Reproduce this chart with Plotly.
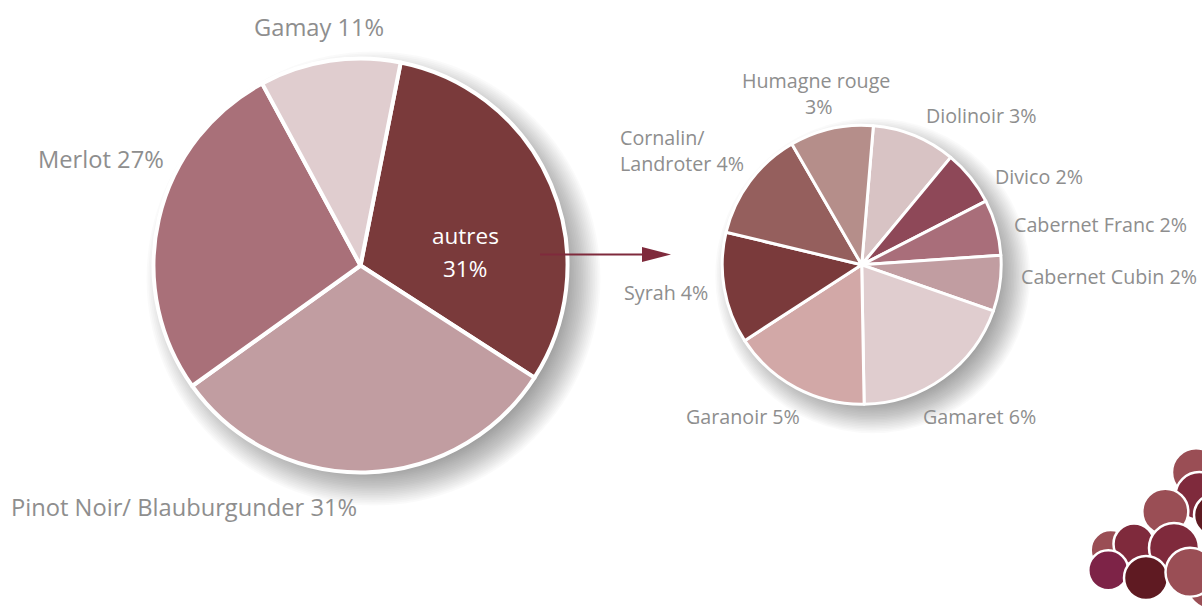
import plotly.graph_objects as go

# --- data ---
main_categories = ["autres", "Pinot Noir/ Blauburgunder", "Merlot", "Gamay"]
main_values = [31, 31, 27, 11]
detail_categories = ["Diolinoir", "Divico", "Cabernet Franc", "Cabernet Cubin", "Gamaret",
                     "Garanoir", "Syrah", "Cornalin/<br>Landroter", "Humagne rouge<br>"]
detail_values = [3, 2, 2, 2, 6, 5, 4, 4, 3]

# --- style ---
W, H = 1202, 608
main_colors = ["#7a3a3b", "#c19da1", "#a97079", "#e0cdcf"]
detail_colors = ["#d8c3c4", "#8e4858", "#a96e7a", "#c19da1", "#e0cdcf",
                 "#d2a8a7", "#7a3a3b", "#955f5d", "#b58e8a"]
FONT = "Open Sans"
GREY = "#8e8e8e"
MAIN_SIZE, DETAIL_SIZE = 23.7, 19.7


def px(x):
    return x / W


def py(y):
    return 1 - y / H


def domain(cx, cy, r):
    return dict(x=[px(cx - r), px(cx + r)], y=[py(cy + r), py(cy - r)])


def circle(cx, cy, r, **kw):
    return dict(type="circle", xref="paper", yref="paper",
                x0=px(cx - r), x1=px(cx + r), y0=py(cy + r), y1=py(cy - r), **kw)


MAIN_PIE = (360.5, 265.5, 207)
DETAIL_PIE = (861.7, 264.8, 139.5)

fig = go.Figure()
fig.add_trace(go.Pie(labels=main_categories, values=main_values, sort=False, direction="clockwise",
                     rotation=11.2, textinfo="none", hoverinfo="label+percent", showlegend=False,
                     marker=dict(colors=main_colors, line=dict(color="white", width=4)),
                     domain=domain(*MAIN_PIE)))
fig.add_trace(go.Pie(labels=detail_categories, values=detail_values, sort=False, direction="clockwise",
                     rotation=4.8, textinfo="none", hoverinfo="label+percent", showlegend=False,
                     marker=dict(colors=detail_colors, line=dict(color="white", width=3)),
                     domain=domain(*DETAIL_PIE)))

shapes = []
# soft drop shadows below the pies
for (cx, cy, r), off, blur in [(MAIN_PIE, 13, 20), (DETAIL_PIE, 11, 18)]:
    n = 24
    for i in range(n):
        rr = r + blur * (1 - 2 * i / (n - 1))
        shapes.append(circle(cx + off, cy + off, rr, fillcolor="rgba(0,0,0,0.02)",
                             line=dict(width=0), layer="below"))

# arrow
shapes.append(dict(type="line", xref="paper", yref="paper", x0=px(540), x1=px(645),
                   y0=py(254.5), y1=py(254.5), line=dict(color="#7f2a3c", width=2)))
shapes.append(dict(type="path", xref="paper", yref="paper", line=dict(width=0), fillcolor="#7f2a3c",
                   path=f"M {px(642)} {py(247)} L {px(671)} {py(254.5)} L {px(642)} {py(262)} Z"))

# grape decoration
ROSE, RED, DARK, PURPLE = "#9a4e55", "#7f2a3c", "#5f1a22", "#7d2347"
grapes = [(1196, 472.3, 24, ROSE), (1199.3, 496, 24, RED), (1215, 515, 21, DARK),
          (1165.3, 511.7, 23, ROSE), (1110.7, 550, 20, ROSE), (1134, 544, 20.5, RED),
          (1211, 585, 24, ROSE), (1174, 548, 25, RED), (1108.3, 570.3, 20, PURPLE),
          (1146, 578, 22, DARK), (1190, 572.3, 24.5, ROSE)]
for gx, gy, gr, gc in grapes:
    shapes.append(circle(gx, gy, gr, fillcolor=gc, line=dict(color="white", width=2.5)))

# labels
main_label_pos = [None, (9, 507, "left"), (36, 158.5, "left"), (252, 26.5, "left")]
detail_label_pos = [(924, 116, "left"), (993, 176, "left"), (1012, 224.5, "left"), (1019, 276, "left"),
                    (921, 416.5, "left"), (684, 416.5, "left"), (622, 293, "left"), (618, 150, "left"),
                    (816, 94, "center")]


def label(text, x, y, anchor, size, color=GREY):
    return dict(text=text, xref="paper", yref="paper", x=px(x), y=py(y), xanchor=anchor, yanchor="middle",
                align=anchor, showarrow=False, font=dict(family=FONT, size=size, color=color))


annotations = []
for name, val, pos in zip(main_categories, main_values, main_label_pos):
    if pos:
        annotations.append(label(f"{name} {val}%", *pos, MAIN_SIZE))
annotations.append(label(main_categories[0], 465, 236, "center", 22.5, "white"))
annotations.append(label(f"{main_values[0]}%", 465, 268, "center", 22.5, "white"))
for name, val, pos in zip(detail_categories, detail_values, detail_label_pos):
    annotations.append(label(f"{name} {val}%", *pos, DETAIL_SIZE))

fig.update_layout(width=W, height=H, margin=dict(l=0, r=0, t=0, b=0), paper_bgcolor="white",
                  plot_bgcolor="white", shapes=shapes, annotations=annotations)
fig.write_html("out.html", config=dict(displayModeBar=False),
               post_script="document.body.style.margin='0';document.body.style.overflow='hidden';")
